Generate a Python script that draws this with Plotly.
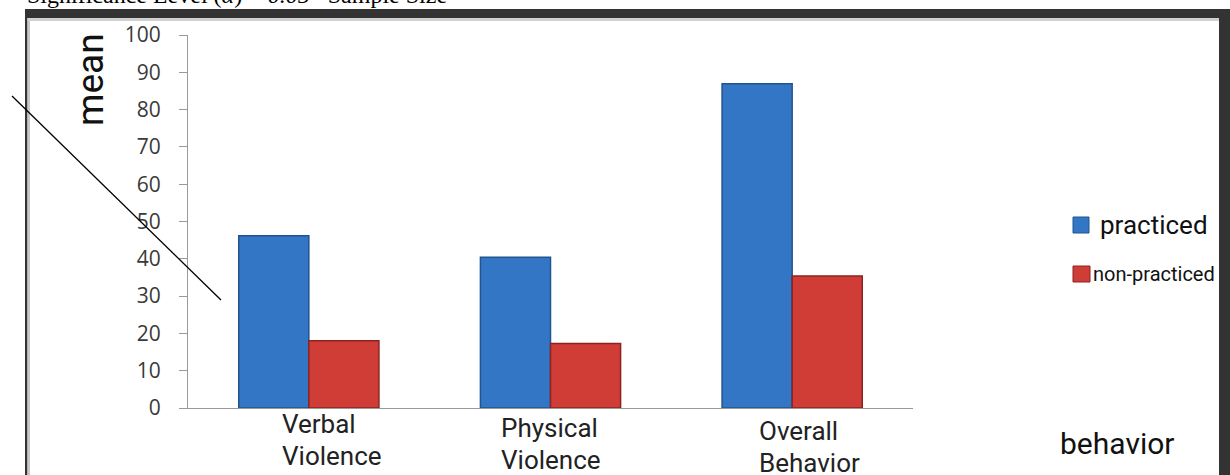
import plotly.graph_objects as go

# ---- data ----
categories = ["Verbal<br>Violence", "Physical<br>Violence", "Overall<br>Behavior"]
practiced = [46.2, 40.4, 86.9]
non_practiced = [18.0, 17.3, 35.4]
y_ticks = [0, 10, 20, 30, 40, 50, 60, 70, 80, 90, 100]
series_names = ["practiced", "non-practiced"]

W, H = 1230, 475
L, R, T, B = 188, 1230 - 913, 35, 475 - 408
PW, PH = W - L - R, H - T - B


def px(x):
    return (x - L) / PW


def py(y):
    return (H - B - y) / PH


x_idx = list(range(len(categories)))

fig = go.Figure()
fig.add_trace(go.Bar(x=x_idx, y=practiced, name=series_names[0],
                     marker=dict(color="#3376c6", line=dict(color="#21548f", width=1.5)),
                     showlegend=False))
fig.add_trace(go.Bar(x=x_idx, y=non_practiced, name=series_names[1],
                     marker=dict(color="#d03c36", line=dict(color="#8c2320", width=1.5)),
                     showlegend=False))

fig.update_layout(
    width=W, height=H,
    margin=dict(l=L, r=R, t=T, b=B, autoexpand=False),
    paper_bgcolor="white", plot_bgcolor="white",
    barmode="group", bargap=0.42, bargroupgap=0,
    font=dict(family="Roboto", color="#222"),
)
fig.update_xaxes(range=[-0.5, len(categories) - 0.5], showticklabels=False,
                 showline=True, linecolor="#9a9a9a", linewidth=1.2,
                 showgrid=False, zeroline=False, ticks="")
fig.update_yaxes(range=[0, 100], tickvals=y_ticks, showline=True, linecolor="#9a9a9a",
                 linewidth=1.2, ticks="outside", ticklen=8, tickcolor="#9a9a9a",
                 showgrid=False, zeroline=False, ticklabelstandoff=14,
                 tickfont=dict(family="Open Sans", size=21, color="#3a3a3a"))

# category labels (left aligned two-line blocks)
label_left = [280, 499, 757]          # pixel left edge of each label block
label_baseline1 = [433, 437, 440]     # baseline of first line
line_gap = 32
lab_size = 26
for i, lab in enumerate(categories):
    for j, line in enumerate(lab.split("<br>")):
        base = label_baseline1[i] + j * line_gap
        fig.add_annotation(x=px(label_left[i]), y=py(base - 0.36 * lab_size),
                           xref="paper", yref="paper", text=line, showarrow=False,
                           xanchor="left", yanchor="middle",
                           font=dict(family="Roboto", size=lab_size, color="#222"))

# axis titles
fig.add_annotation(x=px(91), y=py(80), xref="paper", yref="paper", text="mean",
                   textangle=-90, showarrow=False, xanchor="center", yanchor="middle",
                   font=dict(family="Roboto", size=37, color="#111"))
fig.add_annotation(x=px(1117), y=py(443), xref="paper", yref="paper", text="behavior",
                   showarrow=False, xanchor="center", yanchor="middle",
                   font=dict(family="Roboto", size=30, color="#111"))

# manual legend
leg_colors = ["#3376c6", "#d03c36"]
leg_edges = ["#21548f", "#8c2320"]
leg_boxes = [(1073, 217, 1089, 233), (1073, 266, 1090, 282)]
leg_text_x = [1098, 1091]
leg_sizes = [26, 20]
for i, name in enumerate(series_names):
    x0, y0, x1, y1 = leg_boxes[i]
    fig.add_shape(type="rect", xref="paper", yref="paper", x0=px(x0), x1=px(x1),
                  y0=py(y1), y1=py(y0), fillcolor=leg_colors[i],
                  line=dict(color=leg_edges[i], width=1))
    fig.add_annotation(x=px(leg_text_x[i]), y=py((y0 + y1) / 2), xref="paper", yref="paper",
                       text=name, showarrow=False, xanchor="left", yanchor="middle",
                       font=dict(family="Roboto", size=leg_sizes[i], color="#111"))

# frame
fig.add_shape(type="rect", xref="paper", yref="paper", x0=px(25), x1=px(1231),
              y0=py(18), y1=py(9), fillcolor="#333333", line=dict(width=0), layer="above")
fig.add_shape(type="rect", xref="paper", yref="paper", x0=px(25), x1=px(27.5),
              y0=py(476), y1=py(9), fillcolor="#333333", line=dict(width=0), layer="above")
fig.add_shape(type="rect", xref="paper", yref="paper", x0=px(27.5), x1=px(30),
              y0=py(476), y1=py(18), fillcolor="#c8c8c8", line=dict(width=0), layer="above")
fig.add_shape(type="rect", xref="paper", yref="paper", x0=px(27.5), x1=px(1219),
              y0=py(21), y1=py(18), fillcolor="#d0d0d0", line=dict(width=0), layer="above")
fig.add_shape(type="rect", xref="paper", yref="paper", x0=px(1219), x1=px(1231),
              y0=py(476), y1=py(9), fillcolor="#333333", line=dict(width=0), layer="above")

# diagonal stroke
fig.add_shape(type="line", xref="paper", yref="paper", x0=px(12), y0=py(96),
              x1=px(221), y1=py(300), line=dict(color="black", width=1.3), layer="above")

# cut-off heading text
fig.add_annotation(x=px(25), y=py(10), xref="paper", yref="paper",
                   text="Significance Level (<i>α</i>) = <i>0.05</i>   Sample Size",
                   showarrow=False, xanchor="left", yanchor="bottom",
                   font=dict(family="Liberation Serif", size=24, color="black"))

fig.write_html("out.html")
